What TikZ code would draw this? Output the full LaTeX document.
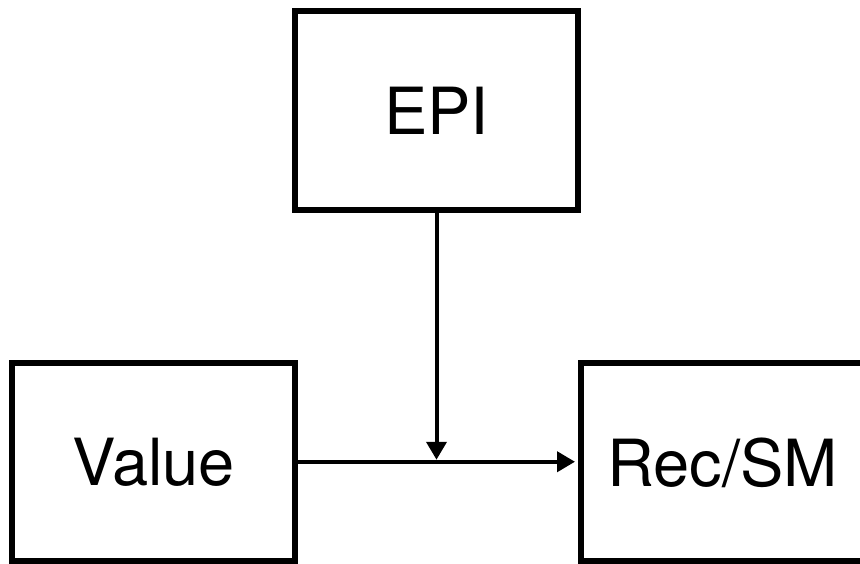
\documentclass[tikz,border=0pt]{standalone}
\usepackage{fontspec}
\setmainfont{TeX Gyre Heros}
\usetikzlibrary{arrows.meta}
\begin{document}
\begin{tikzpicture}[x=1pt,y=-1pt,
  blockbox/.style={draw=black,line width=6pt,minimum width=283pt,minimum height=198.5pt,
    inner sep=0pt,font=\fontsize{65}{78}\selectfont,text depth=0pt},
  conn/.style={line width=4pt,-{Triangle[length=18pt,width=20pt]}}]
\useasboundingbox (0,0) rectangle (860,564);
\clip (0,0) rectangle (860,564);
\node[blockbox] (epi) at (436.5,110.75) {EPI};
\node[blockbox] (val) at (153.75,461.75) {Value};
\node[blockbox] (rec) at (722.5,461.75) {Rec/SM};
\coordinate (j) at (epi.south |- val.east);
\draw[conn,shorten >=3pt] (val.east) -- (rec.west);
\draw[conn,shorten >=2pt] (epi.south) -- (j);
\end{tikzpicture}
\end{document}
